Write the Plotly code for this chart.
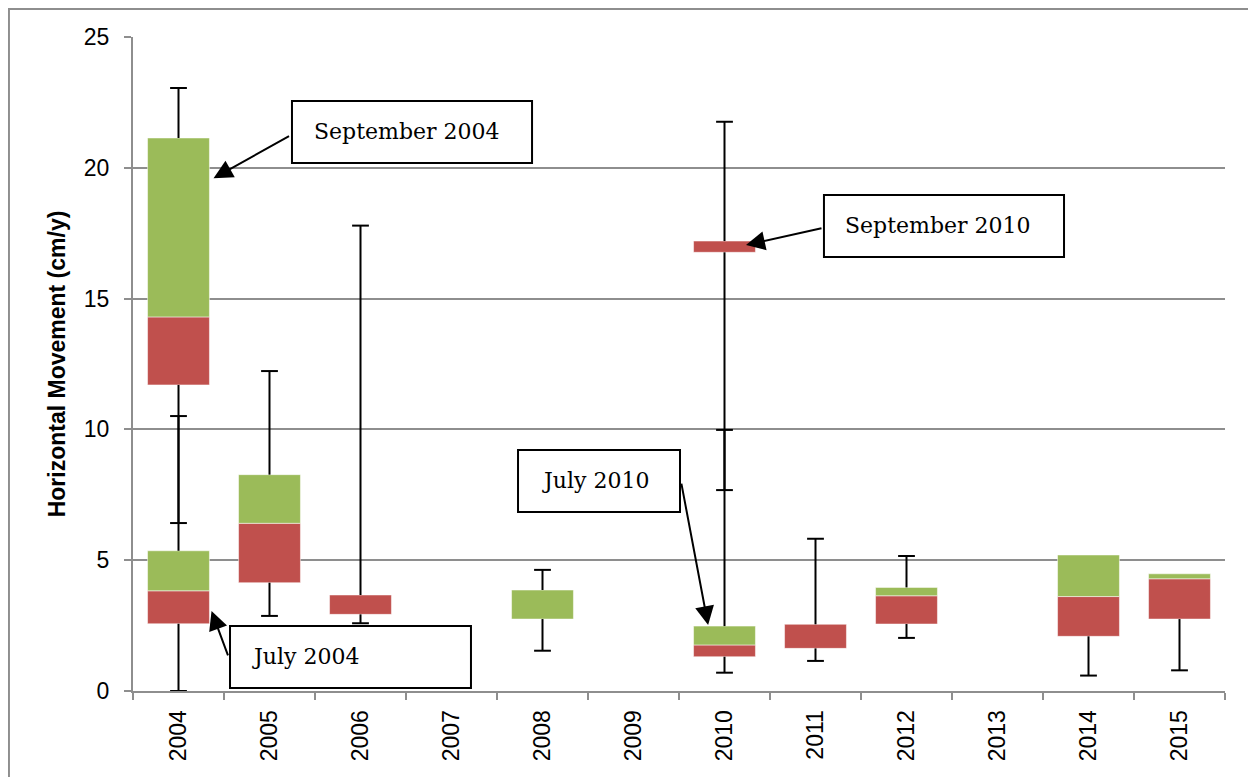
import plotly.graph_objects as go

years = ['2004', '2005', '2006', '2007', '2008', '2009', '2010', '2011', '2012', '2013', '2014', '2015']

# one entry per box (2004 and 2010 have two surveys each)
box_year = ['2004', '2004', '2005', '2006', '2008', '2010', '2010', '2011', '2012', '2014', '2015']
q1 = [11.70, 2.57, 4.14, 2.93, 2.75, 16.77, 1.31, 1.63, 2.56, 2.09, 2.75]
median = [14.30, 3.83, 6.41, 3.67, 2.75, 17.20, 1.76, 2.55, 3.64, 3.61, 4.29]
q3 = [21.14, 5.36, 8.27, 3.67, 3.86, 17.20, 2.48, 2.55, 3.96, 5.20, 4.48]
low = [6.42, 0.0, 2.87, 2.59, 1.54, 7.68, 0.70, 1.15, 2.03, 0.59, 0.79]
high = [23.05, 10.51, 12.23, 17.79, 4.63, 21.76, 9.98, 5.82, 5.16, None, None]

# callouts: text, arrow tip (category index, value)
note_text = ['September 2004', 'July 2004', 'September 2010', 'July 2010']
note_tip_x = [0.385, 0.363, 6.236, 5.82]
note_tip_y = [19.6, 3.06, 17.05, 2.52]

red = '#C0504D'
green = '#9BBB59'
grid = '#8e8e8e'

red_h = [m - a if m - a > 0 else None for a, m in zip(q1, median)]
green_h = [b - m if b - m > 0 else None for m, b in zip(median, q3)]

fig = go.Figure()

fig.add_trace(go.Bar(x=box_year, y=red_h, base=q1, width=0.68,
                     marker=dict(color=red, line=dict(color='rgba(255,255,255,0.5)', width=1)),
                     hoverinfo='skip'))
fig.add_trace(go.Bar(x=box_year, y=green_h, base=median, width=0.68,
                     marker=dict(color=green, line=dict(color='rgba(255,255,255,0.5)', width=1)),
                     hoverinfo='skip'))

# whiskers, only outside the boxes
wx, wy, cx, cy = [], [], [], []
for yr, a, b, lo, hi in zip(box_year, q1, q3, low, high):
    wx += [yr, yr, None]
    wy += [lo, a, None]
    cx.append(yr)
    cy.append(lo)
    if hi is not None:
        wx += [yr, yr, None]
        wy += [b, hi, None]
        cx.append(yr)
        cy.append(hi)

fig.add_trace(go.Scatter(x=wx, y=wy, mode='lines', line=dict(color='black', width=2),
                         hoverinfo='skip'))
fig.add_trace(go.Scatter(x=cx, y=cy, mode='markers',
                         marker=dict(symbol='line-ew', size=12, line=dict(color='black', width=2)),
                         hoverinfo='skip'))

# callout boxes (category index / value units)
boxes = {
    'September 2004': (1.247, 3.885, 20.18, 22.55, 1.467, 21.37, 77, -43),
    'July 2004': (0.566, 3.214, 0.11, 2.48, 0.786, 1.30, 17, 46),
    'September 2010': (7.093, 9.731, 16.59, 18.96, 7.302, 17.78, 77, -17),
    'July 2010': (3.731, 5.511, 6.84, 9.21, 3.973, 8.03, -27, -143),
}
for txt, tx, ty in zip(note_text, note_tip_x, note_tip_y):
    x0, x1, y0, y1, lx, ly, ax, ay = boxes[txt]
    fig.add_shape(type='rect', xref='x', yref='y', x0=x0, x1=x1, y0=y0, y1=y1,
                  line=dict(color='black', width=2), fillcolor='white')
    fig.add_annotation(x=lx, y=ly, xref='x', yref='y', text=txt, showarrow=False,
                       xanchor='left', yanchor='middle',
                       font=dict(family='DejaVu Serif', size=22, color='black'))
    fig.add_annotation(x=tx, y=ty, xref='x', yref='y', text='', showarrow=True,
                       ax=ax, ay=ay, arrowhead=2, arrowsize=1.9, arrowwidth=2,
                       arrowcolor='black', standoff=0)

# outer chart border
fig.add_shape(type='rect', xref='paper', yref='paper', x0=-0.1136, x1=1.0266, y0=-0.3, y1=1.0428,
              line=dict(color=grid, width=2), layer='below')

fig.update_layout(
    width=1256, height=777,
    margin=dict(l=125, r=39, t=29, b=94),
    plot_bgcolor='white', paper_bgcolor='white',
    barmode='overlay', showlegend=False,
    font=dict(family='Liberation Sans', size=23, color='black'),
)
fig.update_xaxes(type='category', categoryorder='array', categoryarray=years,
                 range=[-0.5, 11.5], showgrid=False, showline=True, linecolor=grid, linewidth=2,
                 ticks='outside', tickson='boundaries', ticklen=7, tickcolor=grid, tickwidth=2,
                 tickangle=-90, tickfont=dict(size=23), ticklabelstandoff=8)
fig.update_yaxes(range=[0, 25], dtick=5, showgrid=True, gridcolor=grid, gridwidth=1.5,
                 zeroline=False, showline=True, linecolor=grid, linewidth=2,
                 ticks='outside', ticklen=7, tickcolor=grid, tickwidth=2,
                 tickfont=dict(size=23), ticklabelstandoff=10,
                 title=dict(text='<b>Horizontal Movement (cm/y)</b>', font=dict(size=23), standoff=12))

fig.write_html("out.html")
